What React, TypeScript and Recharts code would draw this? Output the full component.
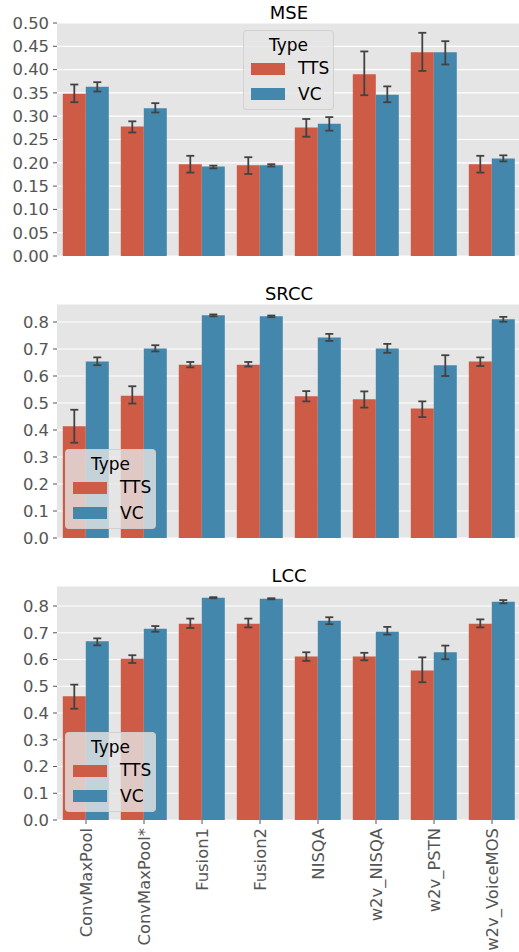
import React from "react";
import { BarChart, Bar, XAxis, YAxis, CartesianGrid, ErrorBar } from "recharts";

const categories = [
  "ConvMaxPool",
  "ConvMaxPool*",
  "Fusion1",
  "Fusion2",
  "NISQA",
  "w2v_NISQA",
  "w2v_PSTN",
  "w2v_VoiceMOS",
];

// MSE
const mseTTS = [0.348, 0.278, 0.197, 0.195, 0.276, 0.39, 0.437, 0.197];
const mseTTSLow = [0.33, 0.265, 0.179, 0.176, 0.256, 0.345, 0.397, 0.179];
const mseTTSHigh = [0.368, 0.289, 0.215, 0.212, 0.294, 0.439, 0.479, 0.215];
const mseVC = [0.363, 0.317, 0.192, 0.195, 0.284, 0.346, 0.437, 0.209];
const mseVCLow = [0.353, 0.308, 0.188, 0.192, 0.269, 0.33, 0.411, 0.203];
const mseVCHigh = [0.373, 0.328, 0.194, 0.197, 0.298, 0.364, 0.461, 0.216];

// SRCC
const srccTTS = [0.414, 0.527, 0.642, 0.642, 0.525, 0.514, 0.48, 0.654];
const srccTTSLow = [0.353, 0.498, 0.632, 0.635, 0.506, 0.483, 0.448, 0.637];
const srccTTSHigh = [0.475, 0.562, 0.652, 0.652, 0.544, 0.543, 0.506, 0.669];
const srccVC = [0.654, 0.702, 0.825, 0.821, 0.743, 0.702, 0.64, 0.81];
const srccVCLow = [0.64, 0.691, 0.821, 0.818, 0.73, 0.686, 0.6, 0.801];
const srccVCHigh = [0.669, 0.714, 0.828, 0.824, 0.756, 0.719, 0.677, 0.819];

// LCC
const lccTTS = [0.463, 0.603, 0.734, 0.734, 0.611, 0.611, 0.559, 0.734];
const lccTTSLow = [0.416, 0.587, 0.718, 0.72, 0.595, 0.597, 0.515, 0.72];
const lccTTSHigh = [0.506, 0.616, 0.753, 0.753, 0.627, 0.625, 0.608, 0.75];
const lccVC = [0.668, 0.715, 0.831, 0.827, 0.745, 0.704, 0.627, 0.816];
const lccVCLow = [0.653, 0.704, 0.829, 0.825, 0.732, 0.693, 0.601, 0.81];
const lccVCHigh = [0.679, 0.725, 0.833, 0.829, 0.758, 0.722, 0.652, 0.822];

const mseTicks = [0, 0.05, 0.1, 0.15, 0.2, 0.25, 0.3, 0.35, 0.4, 0.45, 0.5];
const corrTicks = [0, 0.1, 0.2, 0.3, 0.4, 0.5, 0.6, 0.7, 0.8];

const TTS_COLOR = "#CD5B45";
const VC_COLOR = "#4487AD";
const FONT = "'DejaVu Sans', Verdana, sans-serif";
const TICK_SIZE = 16.4;

function buildRows(
  tts: number[],
  ttsLo: number[],
  ttsHi: number[],
  vc: number[],
  vcLo: number[],
  vcHi: number[]
) {
  return categories.map((name, i) => ({
    name,
    TTS: tts[i],
    VC: vc[i],
    ttsErr: [tts[i] - ttsLo[i], ttsHi[i] - tts[i]],
    vcErr: [vc[i] - vcLo[i], vcHi[i] - vc[i]],
  }));
}

const mseData = buildRows(mseTTS, mseTTSLow, mseTTSHigh, mseVC, mseVCLow, mseVCHigh);
const srccData = buildRows(srccTTS, srccTTSLow, srccTTSHigh, srccVC, srccVCLow, srccVCHigh);
const lccData = buildRows(lccTTS, lccTTSLow, lccTTSHigh, lccVC, lccVCLow, lccVCHigh);

const RotatedTick = (props: any) => {
  const { x, y, payload } = props;
  return (
    <text
      x={x}
      y={y}
      transform={`rotate(-90 ${x} ${y})`}
      textAnchor="end"
      dy="0.36em"
      fill="#555"
      fontSize={TICK_SIZE}
      fontFamily={FONT}
    >
      {payload.value}
    </text>
  );
};

// legend box drawn over the plot, like matplotlib's framealpha=0.8 legend
function TypeLegend({ left, top }: { left: number; top: number }) {
  const patch = (color: string, y: number) => (
    <div style={{ position: "absolute", left: 7, top: y, width: 34, height: 12, background: color }} />
  );
  const label = (text: string, y: number) => (
    <span style={{ position: "absolute", left: 54, top: y, lineHeight: "20px" }}>{text}</span>
  );
  return (
    <div
      style={{
        position: "absolute",
        left,
        top,
        width: 89,
        height: 78,
        background: "rgba(229,229,229,0.8)",
        border: "1px solid rgba(204,204,204,0.8)",
        borderRadius: 4,
        fontFamily: FONT,
        fontSize: 17,
        color: "#000",
      }}
    >
      <div style={{ position: "absolute", left: 0, width: 89, top: 3, lineHeight: "22px", textAlign: "center" }}>
        Type
      </div>
      {patch(TTS_COLOR, 32)}
      {label("TTS", 27)}
      {patch(VC_COLOR, 57)}
      {label("VC", 53)}
    </div>
  );
}

interface PanelProps {
  title: string;
  data: any[];
  plotTop: number;
  plotHeight: number;
  domainMax: number;
  ticks: number[];
  digits: number;
  showLabels: boolean;
  legend: { left: number; top: number };
}

function Panel({ title, data, plotTop, plotHeight, domainMax, ticks, digits, showLabels, legend }: PanelProps) {
  const marginTop = 12;
  const axisHeight = showLabels ? 140 : 12;
  return (
    <>
      <div
        style={{
          position: "absolute",
          left: 57,
          width: 464,
          top: plotTop - 20,
          textAlign: "center",
          fontFamily: FONT,
          fontSize: 18,
          lineHeight: "20px",
          color: "#000",
        }}
      >
        {title}
      </div>
      <div style={{ position: "absolute", left: 0, top: plotTop - marginTop }}>
        <BarChart
          width={521}
          height={marginTop + plotHeight + axisHeight}
          data={data}
          margin={{ top: marginTop, right: 0, bottom: 0, left: 0 }}
          barCategoryGap="10%"
          barGap={0}
        >
          <CartesianGrid vertical={false} stroke="#FFFFFF" strokeWidth={1.2} fill="#E5E5E5" />
          <XAxis
            dataKey="name"
            axisLine={false}
            tickLine={{ stroke: "#555" }}
            tickSize={4}
            tickMargin={4}
            height={axisHeight}
            interval={0}
            tick={showLabels ? <RotatedTick /> : false}
          />
          <YAxis
            width={57}
            domain={[0, domainMax]}
            ticks={ticks}
            interval={0}
            allowDataOverflow
            axisLine={false}
            tickLine={{ stroke: "#555" }}
            tickSize={4}
            tickMargin={4}
            tickFormatter={(v: number) => v.toFixed(digits)}
            tick={{ fill: "#555", fontSize: TICK_SIZE, fontFamily: FONT }}
          />
          <Bar dataKey="TTS" fill={TTS_COLOR} isAnimationActive={false}>
            <ErrorBar dataKey="ttsErr" width={4} strokeWidth={1.8} stroke="#424242" />
          </Bar>
          <Bar dataKey="VC" fill={VC_COLOR} isAnimationActive={false}>
            <ErrorBar dataKey="vcErr" width={4} strokeWidth={1.8} stroke="#424242" />
          </Bar>
        </BarChart>
      </div>
      <TypeLegend left={legend.left} top={legend.top} />
    </>
  );
}

export default function App() {
  return (
    <div style={{ position: "relative", width: 519, height: 952, overflow: "hidden", background: "#fff" }}>
      <style>{`body{margin:0}`}</style>
      <Panel
        title="MSE"
        data={mseData}
        plotTop={23}
        plotHeight={233}
        domainMax={0.5}
        ticks={mseTicks}
        digits={2}
        showLabels={false}
        legend={{ left: 243, top: 30 }}
      />
      <Panel
        title="SRCC"
        data={srccData}
        plotTop={304}
        plotHeight={234}
        domainMax={0.8667}
        ticks={corrTicks}
        digits={1}
        showLabels={false}
        legend={{ left: 65, top: 449 }}
      />
      <Panel
        title="LCC"
        data={lccData}
        plotTop={586}
        plotHeight={234}
        domainMax={0.8748}
        ticks={corrTicks}
        digits={1}
        showLabels={true}
        legend={{ left: 65, top: 732 }}
      />
    </div>
  );
}
